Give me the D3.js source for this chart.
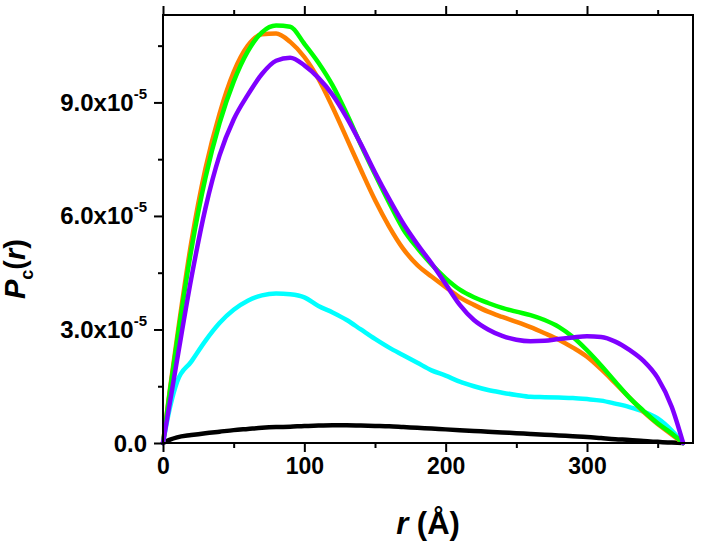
<!DOCTYPE html>
<html>
<head>
<meta charset="utf-8">
<script src="https://cdn.jsdelivr.net/npm/d3@7"></script>
<style>
  html, body { margin: 0; padding: 0; background: #fff; }
  svg { display: block; }
  text { font-family: Arial, "Liberation Sans", sans-serif; font-weight: bold; fill: #000; }
</style>
</head>
<body>
<svg id="chart" width="701" height="541"></svg>
<script>
// r values (Å)
const rValues = [0, 5, 10, 20, 30, 40, 50, 60, 70, 80, 90, 100, 110, 120, 130, 140, 150, 160, 170, 180,
  190, 200, 210, 220, 230, 240, 250, 260, 270, 280, 290, 300, 310, 320, 330, 340, 350, 360, 368];
// Pc(r) values in units of 1e-5
const blackValues = [0, 0.09, 0.15, 0.21, 0.26, 0.30, 0.34, 0.37, 0.40, 0.42, 0.43, 0.45, 0.46, 0.47, 0.47, 0.46, 0.45, 0.44, 0.42, 0.40,
  0.38, 0.36, 0.34, 0.32, 0.30, 0.28, 0.26, 0.24, 0.22, 0.20, 0.18, 0.16, 0.13, 0.10, 0.08, 0.05, 0.03, 0.01, 0];
const cyanValues = [0, 0.95, 1.62, 2.15, 2.70, 3.17, 3.52, 3.76, 3.90, 3.95, 3.93, 3.85, 3.62, 3.45, 3.25, 3.00, 2.75, 2.52, 2.32, 2.12,
  1.92, 1.78, 1.62, 1.50, 1.40, 1.33, 1.27, 1.22, 1.21, 1.20, 1.19, 1.16, 1.12, 1.04, 0.95, 0.83, 0.65, 0.33, 0];
const orangeValues = [0, 1.45, 2.80, 5.30, 7.25, 8.70, 9.80, 10.50, 10.80, 10.82, 10.60, 10.20, 9.62, 8.87, 8.05, 7.22, 6.42, 5.72, 5.13, 4.70,
  4.40, 4.12, 3.85, 3.65, 3.47, 3.33, 3.20, 3.06, 2.90, 2.73, 2.52, 2.28, 1.95, 1.58, 1.20, 0.82, 0.50, 0.22, 0];
const greenValues = [0, 1.40, 2.70, 5.10, 7.00, 8.45, 9.55, 10.35, 10.85, 11.03, 11.00, 10.55, 10.05, 9.45, 8.70, 7.88, 7.10, 6.35, 5.65, 5.15,
  4.72, 4.35, 4.05, 3.85, 3.70, 3.57, 3.47, 3.38, 3.25, 3.07, 2.80, 2.45, 2.05, 1.62, 1.20, 0.85, 0.52, 0.25, 0];
const purpleValues = [0, 1.10, 2.20, 4.35, 6.20, 7.60, 8.55, 9.20, 9.75, 10.10, 10.18, 9.98, 9.65, 9.20, 8.60, 7.90, 7.15, 6.45, 5.80, 5.25,
  4.75, 4.20, 3.65, 3.25, 3.00, 2.83, 2.73, 2.69, 2.70, 2.75, 2.79, 2.82, 2.80, 2.68, 2.46, 2.17, 1.72, 0.95, 0];
const valueUnit = 1e-5;

const seriesNames = ["black", "cyan", "orange", "green", "purple"];
const seriesColors = ["#000000", "#00FFFF", "#FF7F00", "#00FF00", "#7F00FF"];
const seriesValues = [blackValues, cyanValues, orangeValues, greenValues, purpleValues];

const xMajorTicks = [0, 100, 200, 300];
const xMinorTicks = [50, 150, 250, 350];
const yMajorTicks = [0, 3e-5, 6e-5, 9e-5];
const yMinorTicks = [1.5e-5, 4.5e-5, 7.5e-5, 10.5e-5];
const yTickMantissa = ["0.0", "3.0x10", "6.0x10", "9.0x10"];
const yTickExponent = ["", "-5", "-5", "-5"];

const plotLeft = 163, plotRight = 693, plotTop = 15, plotBottom = 443;
const svg = d3.select("#chart");

const x = d3.scaleLinear().domain([0, 375]).range([plotLeft, plotRight]);
const y = d3.scaleLinear().domain([0, 11.31e-5]).range([plotBottom, plotTop]);

// curves
const line = d3.line()
  .x(d => x(d[0]))
  .y(d => y(d[1] * valueUnit))
  .curve(d3.curveMonotoneX);

seriesValues.forEach((vals, i) => {
  svg.append("path")
    .datum(rValues.map((r, j) => [r, vals[j]]))
    .attr("fill", "none")
    .attr("stroke", seriesColors[i])
    .attr("stroke-width", 4.5)
    .attr("stroke-linejoin", "round")
    .attr("stroke-linecap", "round")
    .attr("d", line);
});

// frame
const axisColor = "#000";
const frame = svg.append("g").attr("stroke", axisColor).attr("stroke-width", 2).attr("fill", "none");
frame.append("line").attr("x1", plotLeft).attr("x2", plotLeft).attr("y1", plotTop - 1).attr("y2", plotBottom + 1);
frame.append("line").attr("x1", plotLeft - 1).attr("x2", plotRight + 1).attr("y1", plotBottom).attr("y2", plotBottom);
frame.append("line").attr("x1", plotLeft - 1).attr("x2", plotRight + 1).attr("y1", plotTop).attr("y2", plotTop);
frame.append("line").attr("x1", plotRight).attr("x2", plotRight).attr("y1", plotTop - 1).attr("y2", plotBottom + 1);

// bottom axis
const xAxisBottom = d3.axisBottom(x).tickValues(xMajorTicks).tickSize(9).tickSizeOuter(0).tickPadding(6)
  .tickFormat(d3.format("d"));
const gxb = svg.append("g").attr("transform", `translate(0,${plotBottom})`).call(xAxisBottom);
gxb.select(".domain").remove();
gxb.selectAll(".tick line").attr("stroke", axisColor).attr("stroke-width", 2);
gxb.selectAll(".tick text").attr("font-size", 23).attr("font-family", "Arial, 'Liberation Sans', sans-serif")
  .attr("font-weight", "bold").attr("fill", "#000");
const gxbm = svg.append("g").attr("transform", `translate(0,${plotBottom})`)
  .call(d3.axisBottom(x).tickValues(xMinorTicks).tickSize(5).tickFormat(""));
gxbm.select(".domain").remove();
gxbm.selectAll(".tick line").attr("stroke-width", 2);

// top axis
const gxt = svg.append("g").attr("transform", `translate(0,${plotTop})`)
  .call(d3.axisTop(x).tickValues(xMajorTicks).tickSize(9).tickFormat(""));
gxt.select(".domain").remove();
gxt.selectAll(".tick line").attr("stroke-width", 2);
const gxtm = svg.append("g").attr("transform", `translate(0,${plotTop})`)
  .call(d3.axisTop(x).tickValues(xMinorTicks).tickSize(5).tickFormat(""));
gxtm.select(".domain").remove();
gxtm.selectAll(".tick line").attr("stroke-width", 2);

// left axis
const gyl = svg.append("g").attr("transform", `translate(${plotLeft},0)`)
  .call(d3.axisLeft(y).tickValues(yMajorTicks).tickSize(9).tickFormat(""));
gyl.select(".domain").remove();
gyl.selectAll(".tick line").attr("stroke-width", 2);
const gylm = svg.append("g").attr("transform", `translate(${plotLeft},0)`)
  .call(d3.axisLeft(y).tickValues(yMinorTicks).tickSize(5).tickFormat(""));
gylm.select(".domain").remove();
gylm.selectAll(".tick line").attr("stroke-width", 2);

// y tick labels with superscript exponent
yMajorTicks.forEach((v, i) => {
  const t = svg.append("text")
    .attr("x", plotLeft - 16)
    .attr("y", y(v) + 8.5)
    .attr("text-anchor", "end")
    .attr("font-size", 24);
  t.append("tspan").text(yTickMantissa[i]);
  if (yTickExponent[i]) {
    t.append("tspan").attr("dy", -12).attr("font-size", 15).text(yTickExponent[i]);
  }
});

// x axis title
const xt = svg.append("text")
  .attr("x", (plotLeft + plotRight) / 2)
  .attr("y", 534)
  .attr("text-anchor", "middle")
  .attr("font-size", 31);
xt.append("tspan").attr("font-style", "italic").text("r");
xt.append("tspan").text(" (Å)");

// y axis title
const yt = svg.append("text")
  .attr("transform", `translate(25,269) rotate(-90)`)
  .attr("text-anchor", "middle")
  .attr("font-size", 29)
  .attr("font-style", "italic");
yt.append("tspan").text("P");
yt.append("tspan").attr("font-size", 18).attr("font-style", "normal").attr("dy", 8).text("c");
yt.append("tspan").attr("dy", -8).attr("font-style", "normal").text("(");
yt.append("tspan").attr("font-style", "italic").text("r");
yt.append("tspan").attr("font-style", "normal").text(")");
</script>
</body>
</html>
